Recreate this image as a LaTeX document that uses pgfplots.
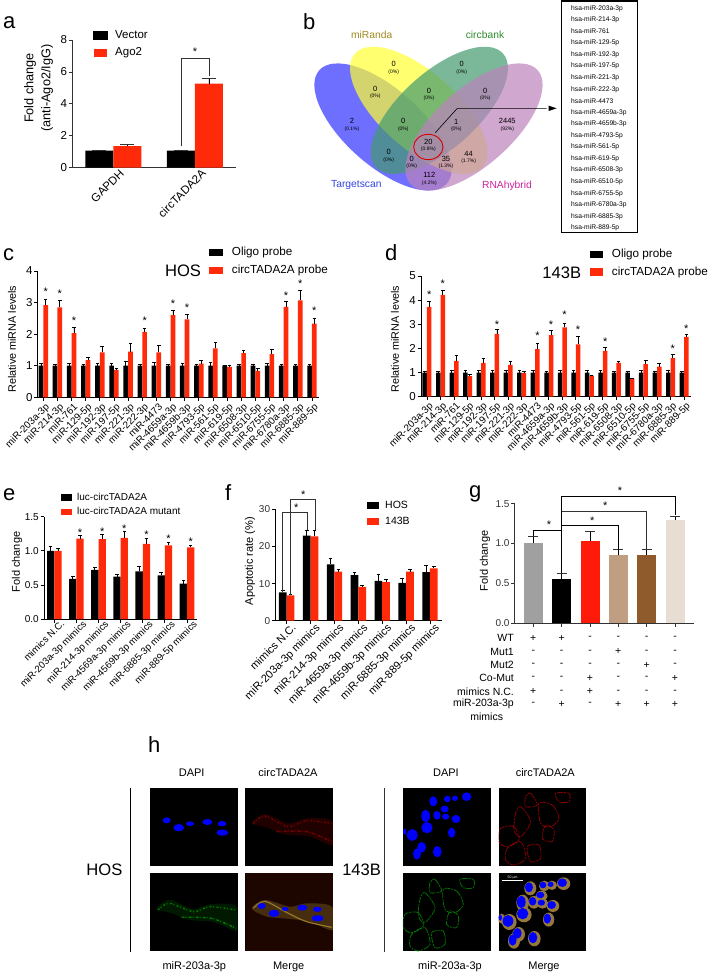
\documentclass[border=0pt]{standalone}
\usepackage{fontspec}
\setmainfont{Liberation Sans}
\usepackage{pgfplots}
\usepackage{pgfplotstable}
\pgfplotsset{compat=1.18}
\usetikzlibrary{arrows.meta}
\newcommand{\fs}[1]{\fontsize{#1}{#1}\selectfont}
\definecolor{pred}{HTML}{FF2A0A}
\definecolor{dgray}{HTML}{333333}
\definecolor{mbg}{RGB}{30,6,0}
\definecolor{mband}{RGB}{70,45,15}
\definecolor{mline}{RGB}{150,120,40}
\definecolor{mhalo}{RGB}{150,120,60}

\pgfplotstableread{
k b be r re
0 1.00 .06 2.92 .18
1 1.00 .04 2.85 .22
2 1.00 .07 2.03 .18
3 1.00 .05 1.18 .08
4 1.00 .06 1.42 .20
5 1.00 .07 0.87 .03
6 1.00 .13 1.45 .25
7 1.00 .03 2.07 .12
8 1.00 .10 1.42 .22
9 1.00 .04 2.60 .15
10 1.00 .07 2.47 .15
11 1.00 .04 1.07 .10
12 1.00 .10 1.55 .20
13 1.00 .02 0.96 .04
14 1.00 .05 1.40 .09
15 1.00 .03 0.84 .07
16 1.00 .07 1.37 .15
17 1.00 .03 2.86 .18
18 1.00 .03 3.07 .33
19 1.00 .04 2.33 .18
}\cdata
\pgfplotstableread{
k b be r re
0 1.00 .06 3.72 .22
1 1.00 .05 4.22 .20
2 1.00 .10 1.48 .23
3 1.00 .07 0.85 .07
4 1.00 .10 1.40 .20
5 1.00 .07 2.60 .17
6 1.00 .08 1.32 .13
7 1.00 .07 0.98 .08
8 1.00 .08 1.97 .25
9 1.00 .03 2.55 .20
10 1.00 .07 2.87 .18
11 1.00 .08 2.17 .32
12 1.00 .07 0.87 .03
13 1.00 .08 1.90 .14
14 1.00 .05 1.40 .08
15 1.00 .03 0.75 .01
16 1.00 .08 1.35 .15
17 1.00 .03 1.25 .15
18 1.00 .07 1.60 .17
19 1.00 .06 2.48 .10
}\ddata
\pgfplotstableread{
k b be r re
0 1.00 .07 1.00 .03
1 0.59 .03 1.18 .05
2 0.72 .04 1.17 .07
3 0.62 .03 1.19 .09
4 0.70 .07 1.10 .08
5 0.64 .04 1.08 .05
6 0.52 .05 1.05 .03
}\edata
\pgfplotstableread{
k b be r re
0 7.6 .6 6.8 .4
1 22.9 1.5 22.7 1.7
2 15.2 1.7 13.2 .6
3 12.3 .8 9.1 .5
4 10.7 1.8 10.4 .7
5 10.2 1.2 13.2 .7
6 13.1 1.7 14.1 .5
}\fdata

\pgfplotsset{
  bp/.style={
    scale only axis, anchor=south west, clip=false,
    ybar=0pt, ymin=0,
    axis x line*=bottom, axis y line*=left,
    axis line style={-,line width=1pt,black},
    tick style={line width=.8pt,black},
    tick align=outside, major tick length=3.5pt,
    xticklabel style={rotate=45,anchor=north east,inner sep=1pt,yshift=-1pt},
    yticklabel style={inner sep=1.5pt},
    /pgf/number format/assume math mode=true,
    every axis plot/.append style={draw=none,
      error bars/y dir=plus, error bars/y explicit,
      error bars/error bar style={line width=.8pt,black},
      error bars/error mark options={rotate=90,mark size=1.8pt,line width=.8pt,black}},
  },
  zfill/.style={yticklabel style={/pgf/number format/fixed,/pgf/number format/fixed zerofill,/pgf/number format/precision=1}},
}
\tikzset{st/.style={anchor=base,inner sep=0pt,yshift=-6.4pt,font=\fs{11}}}
\def\cellsB{{(960,320) (975,310) (995,345) (960,350)},{(930,370) (945,350) (975,395) (945,440) (925,420)},{(1000,340) (1040,345) (1060,385) (1035,410) (1005,400)},{(885,415) (925,410) (940,450) (905,470) (880,455)},{(905,475) (945,455) (960,505) (925,525) (900,510)},{(965,470) (1000,465) (1005,505) (975,515)},{(1020,405) (1045,420) (1040,455) (1010,445)},{(1050,310) (1090,310) (1090,335) (1060,335)}}
\def\nucB{970/334/12/15,1012/327/10/10,1035/325/9/8,1070/320/14/13,1004/357/12/10,981/376/11/13,1007/380/11/9,947/378/13/19,1038/387/13/12,951/413/17/17,1025/428/11/15,907/435/16/18,884/425/5/9,935/472/13/16,921/492/12/17,982/485/13/17}

\begin{document}
\begin{tikzpicture}
\path[use as bounding box,fill=white] (0,0) rectangle (709pt,-974pt);

% ---------- a
\begin{axis}[bp,at={(72.3pt,-167.7pt)},width=163.7pt,height=127.7pt,
  xmin=-.502,xmax=1.502,ymax=8,bar width=28pt,
  axis line style={-,line width=.9pt,dgray},tick style={line width=.8pt,dgray},
  xtick={0,1},xticklabels={GAPDH,circTADA2A},xtick style={draw=none},
  xticklabel style={font=\fs{11.5},xshift=7pt},
  ytick={0,2,4,6,8},yticklabel style={font=\fs{11.5}},
  every axis plot/.append style={error bars/error mark options={rotate=90,mark size=7pt,line width=.8pt,dgray}}]
\addplot[fill=black] coordinates {(0,1.07) +- (0,.02) (1,1.07) +- (0,.02)};
\addplot[fill=pred] coordinates {(0,1.35) +- (0,.12) (1,5.27) +- (0,.35)};
\end{axis}

% ---------- c
\begin{axis}[bp,at={(37.7pt,-397.3pt)},width=281.6pt,height=126.3pt,
  xmin=-.396,xmax=19.52,ymax=4,bar width=4.7pt,
  xtick={0,...,19},ytick={0,1,2,3,4},
  xticklabels={miR-203a-3p,miR-214-3p,miR-761,miR-129-5p,miR-192-3p,miR-197-5p,miR-221-3p,miR-222-3p,miR-4473,miR-4659a-3p,miR-4659b-3p,miR-4793-5p,miR-561-5p,miR-619-5p,miR-6508-3p,miR-6510-5p,miR-6755-5p,miR-6780a-3p,miR-6885-3p,miR-889-5p},
  xticklabel style={font=\fs{9.9},xshift=1pt},yticklabel style={font=\fs{11.5}}]
\addplot[fill=black] table[x=k,y=b,y error=be]{\cdata};
\addplot[fill=pred] table[x=k,y=r,y error=re]{\cdata};
\foreach \k/\v in {0/3.42,1/3.35,2/2.50,7/2.50,9/3.05,10/2.92,17/3.29,18/3.69,19/2.81}{
  \edef\tmp{\noexpand\node[st] at (axis cs:\k+.17,\v) {*};}\tmp}
\end{axis}

% ---------- d
\begin{axis}[bp,at={(421pt,-396.7pt)},width=269.7pt,height=120.7pt,
  xmin=-.443,xmax=19.49,ymax=5,bar width=4.5pt,
  xtick={0,...,19},ytick={0,1,2,3,4,5},
  xticklabels={miR-203a-3p,miR-214-3p,miR-761,miR-129-5p,miR-192-3p,miR-197-5p,miR-221-3p,miR-222-3p,miR-4473,miR-4659a-3p,miR-4659b-3p,miR-4793-5p,miR-561-5p,miR-619-5p,miR-6508-3p,miR-6510-5p,miR-6755-5p,miR-6780a-3p,miR-6885-3p,miR-889-5p},
  xticklabel style={font=\fs{9.9},xshift=1pt},yticklabel style={font=\fs{11.5}}]
\addplot[fill=black] table[x=k,y=b,y error=be]{\ddata};
\addplot[fill=pred] table[x=k,y=r,y error=re]{\ddata};
\foreach \k/\v in {0/4.32,1/4.79,5/3.11,8/2.62,9/3.11,10/3.51,11/2.87,13/2.38,18/2.10,19/2.94}{
  \edef\tmp{\noexpand\node[st] at (axis cs:\k+.17,\v) {*};}\tmp}
\end{axis}

% ---------- e
\begin{axis}[bp,at={(44pt,-619pt)},width=153.3pt,height=102.3pt,
  xmin=-.466,xmax=6.465,ymax=1.5,bar width=7.3pt,zfill,
  xtick={0,...,6},ytick={0,.5,1,1.5},
  xticklabels={mimics N.C.,miR-203a-3p mimics,miR-214-3p mimics,miR-4569a-3p mimics,miR-4569b-3p mimics,miR-6885-3p mimics,miR-889-5p mimics},
  xticklabel style={font=\fs{9.7},xshift=7pt},yticklabel style={font=\fs{10}}]
\addplot[fill=black] table[x=k,y=b,y error=be]{\edata};
\addplot[fill=pred] table[x=k,y=r,y error=re]{\edata};
\foreach \k/\v in {1/1.30,2/1.32,3/1.36,4/1.27,5/1.21,6/1.17}{
  \edef\tmp{\noexpand\node[st] at (axis cs:\k+.165,\v) {*};}\tmp}
\end{axis}

% ---------- f
\begin{axis}[bp,at={(275.3pt,-620.7pt)},width=166.4pt,height=111.4pt,
  xmin=-.477,xmax=6.49,ymax=30,bar width=7.7pt,
  xtick={0,...,6},ytick={0,10,20,30},
  xticklabels={mimics N.C.,miR-203a-3p mimics,miR-214-3p mimics,miR-4659a-3p mimics,miR-4659b-3p mimics,miR-6885-3p mimics,miR-889-5p mimics},
  xticklabel style={font=\fs{11},xshift=5pt},yticklabel style={font=\fs{10},dgray}]
\addplot[fill=black] table[x=k,y=b,y error=be]{\fdata};
\addplot[fill=pred] table[x=k,y=r,y error=re]{\fdata};
\end{axis}

% ---------- g
\begin{axis}[bp,at={(514.7pt,-623pt)},width=179.3pt,height=119.3pt,
  xmin=-.657,xmax=5.67,ymax=1.5,zfill,
  axis line style={-,line width=.9pt,dgray},tick style={line width=.8pt,dgray},
  xtick={0,...,5},xticklabels={},ytick={0,.5,1,1.5},yticklabel style={font=\fs{10},dgray},
  every axis plot/.append style={bar width=19pt,bar shift=0pt,
    error bars/error mark options={rotate=90,mark size=5pt,line width=.8pt,dgray}}]
\addplot[fill={rgb,255:red,160;green,160;blue,160}] coordinates {(0,1.00) +- (0,.09)};
\addplot[fill=black] coordinates {(1,.55) +- (0,.08)};
\addplot[fill={rgb,255:red,255;green,26;blue,10}] coordinates {(2,1.03) +- (0,.12)};
\addplot[fill={rgb,255:red,191;green,158;blue,130}] coordinates {(3,.85) +- (0,.07)};
\addplot[fill={rgb,255:red,143;green,90;blue,44}] coordinates {(4,.86) +- (0,.06)};
\addplot[fill={rgb,255:red,232;green,221;blue,211}] coordinates {(5,1.30) +- (0,.04)};
\end{axis}

% ---------- annotations in pixel coordinates
\begin{scope}[x=1pt,y=-1pt]
\foreach \t/\x/\y in {a/3/29,b/303/30,c/3/260,d/385/260,e/3/500,f/225/500,g/469/497,h/148/752}{
  \node[anchor=base west,inner sep=0pt,font=\fs{22}] at (\x,\y) {\t};}

% a
\draw[dgray,line width=.9pt] (181.3,146) -- (181.3,58.3) -- (209,58.3) -- (209,76);
\node[st] at (195,49) {*};
\fill[black] (92.7,30.7) rectangle (108.3,40);
\fill[pred] (94,49.3) rectangle (107.3,56.7);
\node[anchor=west,inner sep=0pt,font=\fs{11.5}] at (115,35) {Vector};
\node[anchor=west,inner sep=0pt,font=\fs{11.5}] at (115,52.7) {Ago2};
\node[rotate=90,inner sep=0pt,font=\fs{12.7}] at (30,88) {Fold change};
\node[rotate=90,inner sep=0pt,font=\fs{12.7}] at (47,88) {(anti-Ago2/IgG)};

% c
\node[rotate=90,inner sep=0pt,font=\fs{10.8}] at (12,339) {Relative miRNA levels};
\fill[black] (209,249) rectangle (222.7,255.7);
\fill[pred] (209,266.7) rectangle (222.7,274);
\node[anchor=west,inner sep=0pt,font=\fs{11.7}] at (231.7,252.3) {Oligo probe};
\node[anchor=west,inner sep=0pt,font=\fs{11.7}] at (231.7,270) {circTADA2A probe};
\node[inner sep=0pt,font=\fs{16.6}] at (183,270.7) {HOS};

% d
\node[rotate=90,inner sep=0pt,font=\fs{10.8}] at (395,339) {Relative miRNA levels};
\fill[black] (590,251) rectangle (603.3,258.3);
\fill[pred] (590,268.3) rectangle (603.3,275.7);
\node[anchor=west,inner sep=0pt,font=\fs{11.7}] at (611.7,254.3) {Oligo probe};
\node[anchor=west,inner sep=0pt,font=\fs{11.7}] at (611.7,272.3) {circTADA2A probe};
\node[inner sep=0pt,font=\fs{16.6}] at (561.7,272.7) {143B};

% e
\node[rotate=90,inner sep=0pt,font=\fs{11}] at (17,562) {Fold change};
\fill[black] (60.5,494) rectangle (72,500.5);
\fill[pred] (60.5,508.5) rectangle (72,515);
\node[anchor=west,inner sep=0pt,font=\fs{10}] at (77,496.7) {luc-circTADA2A};
\node[anchor=west,inner sep=0pt,font=\fs{10}] at (77,511) {luc-circTADA2A mutant};

% f
\node[rotate=90,inner sep=0pt,font=\fs{11}] at (250,561) {Apoptotic rate (\%)};
\fill[black] (366.5,502) rectangle (378.5,509);
\fill[pred] (366.5,518) rectangle (378.5,525);
\node[anchor=west,inner sep=0pt,font=\fs{10.5}] at (385,505) {HOS};
\node[anchor=west,inner sep=0pt,font=\fs{10.5}] at (385,521) {143B};
\draw[dgray,line width=.9pt] (282.7,592) -- (282.7,512) -- (307.3,512) -- (307.3,530);
\draw[dgray,line width=.9pt] (290.3,595) -- (290.3,499) -- (315,499) -- (315,530);
\node[st] at (296.3,505) {*};
\node[st] at (303.3,491.7) {*};

% g
\node[rotate=90,inner sep=0pt,font=\fs{11}] at (485,561) {Fold change};
\draw[black,line width=.9pt] (533.3,536) -- (533.3,530) -- (561.7,530);
\draw[black,line width=.9pt] (561.7,573.3) -- (561.7,496.7) -- (675.3,496.7) -- (675.3,515);
\draw[dgray,line width=.9pt] (561.7,511) -- (646.7,511) -- (646.7,549.3);
\draw[black,line width=.9pt] (561.7,525.3) -- (618.3,525.3) -- (618.3,550);
\node[st] at (549,522) {*};
\node[st] at (592.3,518) {*};
\node[st] at (605.3,503.3) {*};
\node[st] at (620,488.3) {*};
\foreach \t/\y in {WT/638,Mut1/651.7,Mut2/665,Co-Mut/678,mimics N.C./691.7,miR-203a-3p/704}{
  \node[anchor=east,inner sep=0pt,font=\fs{10.5}] at (514,\y) {\t};}
\node[inner sep=0pt,font=\fs{10.5}] at (486.7,717) {mimics};
\foreach \y/\a/\b/\c/\d/\e/\f in {638/+/+/-/-/-/-,651.7/-/-/-/+/-/-,665/-/-/-/-/+/-,678/-/-/+/-/-/+,691.7/+/-/+/-/-/-,704/-/+/-/+/+/+}{
  \foreach \x/\s in {533.3/\a,561.7/\b,590/\c,618.3/\d,646.7/\e,675/\f}{
    \node[inner sep=0pt,font=\fs{10.5}] at (\x,\y) {\s};}}

% ---------- b: Venn diagram
\begin{scope}[shift={(280pt,0pt)},x=.3333pt,y=-.3333pt]
\definecolor{vb}{RGB}{51,51,255}\definecolor{vy}{RGB}{255,255,51}
\definecolor{vg}{RGB}{68,155,111}\definecolor{vp}{RGB}{188,131,188}
\fill[vb,fill opacity=.7,rotate around={-41.7:(309,381)}] (309,381) ellipse [x radius=256,y radius=115];
\fill[vy,fill opacity=.7,rotate around={-41.7:(416,331)}] (416,331) ellipse [x radius=256,y radius=115];
\fill[vg,fill opacity=.7,rotate around={41.7:(478,331)}] (478,331) ellipse [x radius=256,y radius=115];
\fill[vp,fill opacity=.7,rotate around={41.7:(582,381)}] (582,381) ellipse [x radius=256,y radius=115];
\draw[red!85!black,line width=.9pt] (445,441) ellipse [x radius=44,y radius=38];
\draw[black,line width=.6pt] (466,398) -- (532,325) -- (800,325);
\fill[black] (830,325) -- (806,317) -- (806,333) -- cycle;
\foreach \x/\y/\v/\p/\dy in {341/193/0/0\%/24,545/193/0/0\%/24,286/266/0/0\%/24,447/272/0/0\%/23,616/272/0/0\%/23,216/363/2/0.1\%/24,370/363/0/0\%/24,529/365/1/0\%/24,682/363/2445/92\%/24,445/425/20/0.8\%/23,326/457/0/0\%/23,395/477/0/0\%/23,498/477/35/1.3\%/22,566/461/44/1.7\%/23,448/525/112/4.2\%/24}{
  \node[inner sep=0pt,font=\fs{7.5}] at (\x,\y) {\v};
  \node[inner sep=0pt,font=\fs{5}] at (\x,\y+\dy) {(\p)};}
\node[inner sep=0pt,font=\fs{10.3},text={rgb,255:red,160;green,138;blue,32}] at (275,103) {miRanda};
\node[inner sep=0pt,font=\fs{10.3},text={rgb,255:red,46;green,139;blue,46}] at (615,103) {circbank};
\node[inner sep=0pt,font=\fs{10.3},text={rgb,255:red,51;green,68;blue,221}] at (229,554) {Targetscan};
\node[inner sep=0pt,font=\fs{10.3},text={rgb,255:red,204;green,34;blue,153}] at (681,557) {RNAhybrid};
\draw[black,line width=1.7pt] (845,3) rectangle (1073,698);
\foreach \t [count=\i from 0] in {203a-3p,214-3p,761,129-5p,192-3p,197-5p,221-3p,222-3p,4473,4659a-3p,4659b-3p,4793-5p,561-5p,619-5p,6508-3p,6510-5p,6755-5p,6780a-3p,6885-3p,889-5p}{
  \node[anchor=west,inner sep=0pt,font=\fs{6.7}] at (873,25+34.7*\i) {hsa-miR-\t};}
\end{scope}

% ---------- h: micrographs
\begin{scope}[shift={(110pt,-690pt)},x=.3333pt,y=-.3333pt]
\foreach \t/\x in {DAPI/245,circTADA2A/534,DAPI/1008,circTADA2A/1306}{
  \node[inner sep=0pt,font=\fs{11}] at (\x,248) {\t};}
\foreach \t/\x in {miR-203a-3p/253,Merge/536,miR-203a-3p/1020,Merge/1302}{
  \node[inner sep=0pt,font=\fs{11}] at (\x,830) {\t};}
\node[anchor=east,inner sep=0pt,font=\fs{16.6}] at (38,538) {HOS};
\node[inner sep=0pt,font=\fs{16.6}] at (755,538) {143B};
\draw[black,line width=1pt] (62,293) -- (62,785);
\draw[dgray,line width=1pt] (823,293) -- (823,785);
\foreach \x/\y in {120/293,406/293,120/550,406/550,879/293,1166/293,879/550,1166/550}{
  \fill[black] (\x,\y) rectangle +(263,234);
}
\foreach \x/\y/\a/\b in {170/391/12/9,206/413/16/11,240/401/12/7,292/396/15/9,336/401/13/8,337/428/18/9}{
  \fill[blue] (\x,\y) ellipse [x radius=\a,y radius=\b];}
\begin{scope}
\clip (406,293) rectangle +(263,234);
\fill[red!60!black,opacity=.22] plot[smooth cycle] coordinates {(425,400) (465,372) (535,400) (590,385) (665,392) (668,465) (600,440) (520,432) (470,412)};
\draw[red!70!black,line width=1.4pt,opacity=.6,dash pattern=on 2pt off 1.5pt on 1pt off 2.5pt] plot[smooth] coordinates {(430,400) (465,378) (535,410) (590,392) (665,400)};
\draw[red!70!black,line width=1.4pt,opacity=.6,dash pattern=on 3pt off 1pt on 1pt off 2pt] plot[smooth] coordinates {(500,425) (590,425) (665,455)};
\end{scope}
\begin{scope}
\clip (120,550) rectangle +(263,234);
\fill[green!45!black,opacity=.22] plot[smooth cycle] coordinates {(139,657) (179,629) (249,657) (304,642) (379,649) (382,722) (314,697) (234,689) (184,669)};
\draw[green!65!black,line width=1.4pt,opacity=.7,dash pattern=on 2pt off 1.5pt on 1pt off 2.5pt] plot[smooth] coordinates {(144,660) (178,640) (250,665) (300,650) (378,660)};
\draw[green!65!black,line width=1.4pt,opacity=.7,dash pattern=on 3pt off 1pt on 1pt off 2pt] plot[smooth] coordinates {(215,682) (305,685) (378,715)};
\end{scope}
\begin{scope}
\clip (406,550) rectangle +(263,234);
\fill[mbg] (406,550) rectangle +(263,234);
\fill[mband] plot[smooth cycle] coordinates {(425,655) (465,630) (540,650) (590,640) (665,650) (668,720) (600,695) (520,685) (470,680)};
\draw[mline,line width=1.2pt] plot[smooth] coordinates {(430,655) (465,634) (535,670) (590,695) (665,712)};
\foreach \x/\y/\a/\b in {455/648/12/9,492/670/16/11,525/657/10/6,577/653/15/9,622/658/13/8,623/685/18/9}{
  \fill[blue] (\x,\y) ellipse [x radius=\a,y radius=\b];}
\end{scope}
\foreach \x/\y/\a/\b in \nucB{
  \fill[blue] (\x,\y) ellipse [x radius=\a,y radius=\b];}
\begin{scope}
\clip (1166,293) rectangle +(263,234);
\begin{scope}[shift={(287,0)}]
\foreach \pts in \cellsB{
  \draw[red!75!black,line width=.8pt,opacity=.7,dash pattern=on 6pt off 1pt on 2pt off 1pt] plot[smooth cycle] coordinates \pts;}
\end{scope}
\end{scope}
\begin{scope}
\clip (879,550) rectangle +(263,234);
\begin{scope}[shift={(0,258)}]
\foreach \pts in \cellsB{
  \draw[green!55!black,line width=.8pt,opacity=.8,dash pattern=on 6pt off 1pt on 2pt off 1pt] plot[smooth cycle] coordinates \pts;}
\end{scope}
\end{scope}
\begin{scope}
\clip (1166,550) rectangle +(263,234);
\begin{scope}[shift={(287,258)}]
\foreach \x/\y/\a/\b in \nucB{
  \fill[mhalo] (\x+4,\y+3) ellipse [x radius=\a+6,y radius=\b+6];}
\foreach \x/\y/\a/\b in \nucB{
  \fill[blue] (\x,\y) ellipse [x radius=\a,y radius=\b];}
\end{scope}
\fill[white] (1177,570) rectangle (1239,574);
\node[white,inner sep=0pt,font=\fs{3.5}] at (1208,563) {50 μm};
\end{scope}
\end{scope}
\end{scope}
\end{tikzpicture}
\end{document}
